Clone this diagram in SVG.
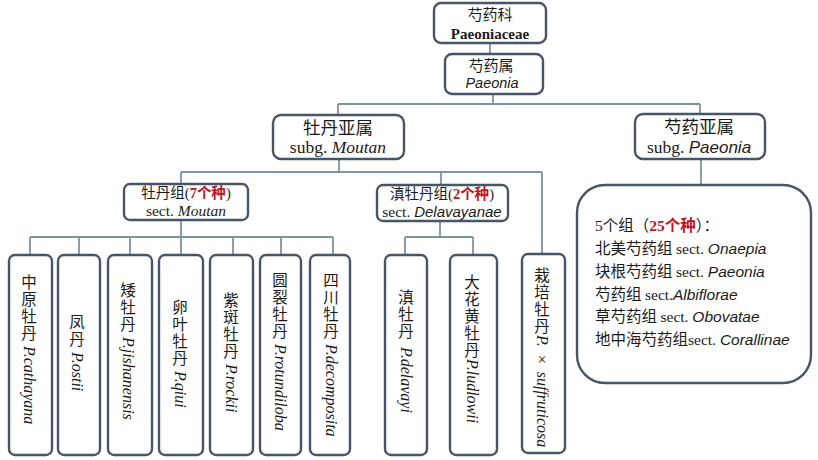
<svg xmlns="http://www.w3.org/2000/svg" width="818" height="460" viewBox="0 0 818 460">
<defs>
<style>
.box{fill:#ffffff;stroke:#46566a;stroke-width:2.4}
.ln{fill:none;stroke:#7b93a8;stroke-width:1.8}
.cjk{font-family:"Noto Sans CJK SC","Noto Sans CJK TC",sans-serif;fill:#1a1a1a}
.ser{font-family:"Liberation Serif","Noto Sans CJK SC",serif;fill:#1a1a1a}
.ait{font-family:"Liberation Sans",sans-serif;font-style:italic;fill:#1a1a1a}
.red{fill:#c0141c;font-weight:bold}
.vt{font-family:"Noto Sans CJK SC",sans-serif;font-size:15.5px;letter-spacing:1.5px;fill:#1a1a1a;writing-mode:vertical-rl}
.ll{font-family:"Liberation Serif",serif;font-style:italic;font-size:16px;letter-spacing:0}
</style>
</defs>
<rect width="818" height="460" fill="#ffffff"/>
<g id="connectors">
<path class="ln" d="M490 43V54"/>
<path class="ln" d="M493 94V104M338 104H700M338 104V115M700 104V114"/>
<path class="ln" d="M339 159V172M181 172H542M181 172V184M441 172V185M542 172V254"/>
<path class="ln" d="M181 220V237M30 237H333M30 237V255M79 237V255M130 237V255M181 237V255M233 237V255M281 237V255M333 237V255"/>
<path class="ln" d="M440 221V237M405 237H473M405 237V255M473 237V255"/>
<path class="ln" d="M701 159V185"/>
</g>
<g id="n_family">
<rect class="box" x="434" y="3" width="112" height="40" rx="7"/>
<text class="cjk" x="490" y="20" font-size="15" text-anchor="middle">芍药科</text>
<text class="ser" x="490" y="39" font-size="15" font-weight="bold" text-anchor="middle">Paeoniaceae</text>
</g>
<g id="n_genus">
<rect class="box" x="445" y="54" width="98" height="40" rx="7"/>
<text class="cjk" x="491" y="71" font-size="15" text-anchor="middle">芍药属</text>
<text class="ait" x="492" y="88" font-size="14.5" text-anchor="middle">Paeonia</text>
</g>
<g id="n_moutan">
<rect class="box" x="273" y="115" width="131" height="44" rx="8"/>
<text class="cjk" x="338" y="134" font-size="17.5" text-anchor="middle">牡丹亚属</text>
<text class="ser" x="338" y="153" font-size="17.5" text-anchor="middle">subg. <tspan font-style="italic">Moutan</tspan></text>
</g>
<g id="n_paeonia">
<rect class="box" x="635" y="114" width="130" height="45" rx="8"/>
<text class="cjk" x="699" y="133" font-size="17.5" text-anchor="middle">芍药亚属</text>
<text class="ser" x="699" y="153" font-size="17.5" text-anchor="middle">subg. <tspan class="ait" font-size="17">Paeonia</tspan></text>
</g>
<g id="n_sect_moutan">
<rect class="box" x="124" y="184" width="124" height="36" rx="6"/>
<text class="cjk" x="186" y="198" font-size="14.5" text-anchor="middle">牡丹组<tspan class="ser">(</tspan><tspan class="red ser">7</tspan><tspan class="red">个种</tspan><tspan class="ser">)</tspan></text>
<text class="ser" x="186" y="216" font-size="15.5" text-anchor="middle">sect. <tspan font-style="italic">Moutan</tspan></text>
</g>
<g id="n_sect_delavayanae">
<rect class="box" x="377" y="185" width="131" height="36" rx="6"/>
<text class="cjk" x="442" y="199" font-size="14.5" text-anchor="middle">滇牡丹组<tspan class="ser">(</tspan><tspan class="red ser">2</tspan><tspan class="red">个种</tspan><tspan class="ser">)</tspan></text>
<text class="ser" x="442" y="217" font-size="15.5" text-anchor="middle">sect. <tspan class="ait" font-size="15">Delavayanae</tspan></text>
</g>
<g id="n_sections">
<rect class="box" x="577" y="185" width="234" height="198" rx="28"/>
<text class="ser" x="595" y="231" font-size="15.5">5<tspan class="cjk">个组（</tspan><tspan class="red">25</tspan><tspan class="cjk red">个种</tspan><tspan class="cjk">）：</tspan></text>
<text class="cjk" x="595" y="254" font-size="15.5">北美芍药组 <tspan class="ser">sect. </tspan><tspan class="ait">Onaepia</tspan></text>
<text class="cjk" x="595" y="277" font-size="15.5">块根芍药组 <tspan class="ser">sect. </tspan><tspan class="ait">Paeonia</tspan></text>
<text class="cjk" x="595" y="300" font-size="15.5">芍药组 <tspan class="ser">sect.</tspan><tspan class="ait">Albiflorae</tspan></text>
<text class="cjk" x="595" y="322" font-size="15.5">草芍药组 <tspan class="ser">sect. </tspan><tspan class="ait">Obovatae</tspan></text>
<text class="cjk" x="595" y="345" font-size="15.5">地中海芍药组<tspan class="ser">sect. </tspan><tspan class="ait">Corallinae</tspan></text>
</g>
<g id="n_cathayana">
<rect class="box" x="9" y="255" width="43" height="200" rx="6"/>
<text class="vt" x="29" y="274">中原牡丹<tspan class="ll" dy="4">P.cathayana</tspan></text>
</g>
<g id="n_ostii">
<rect class="box" x="58" y="255" width="42" height="200" rx="6"/>
<text class="vt" x="77" y="314">凤丹<tspan class="ll" dy="4">P.ostii</tspan></text>
</g>
<g id="n_jishanensis">
<rect class="box" x="108" y="255" width="44" height="200" rx="6"/>
<text class="vt" x="128" y="282">矮牡丹<tspan class="ll" dy="4">P.jishanensis</tspan></text>
</g>
<g id="n_qiui">
<rect class="box" x="159" y="255" width="44" height="200" rx="6"/>
<text class="vt" x="180" y="299">卵叶牡丹<tspan class="ll" dy="4">P.qiui</tspan></text>
</g>
<g id="n_rockii">
<rect class="box" x="210" y="255" width="43" height="200" rx="6"/>
<text class="vt" x="231" y="292">紫斑牡丹<tspan class="ll" dy="4">P.rockii</tspan></text>
</g>
<g id="n_rotundiloba">
<rect class="box" x="260" y="255" width="41" height="200" rx="6"/>
<text class="vt" x="280" y="272">圆裂牡丹<tspan class="ll" dy="4">P.rotundiloba</tspan></text>
</g>
<g id="n_decomposita">
<rect class="box" x="310" y="255" width="40" height="200" rx="6"/>
<text class="vt" x="331" y="272">四川牡丹<tspan class="ll" dy="4">P.decomposita</tspan></text>
</g>
<g id="n_delavayi">
<rect class="box" x="385" y="255" width="42" height="200" rx="6"/>
<text class="vt" x="406" y="289">滇牡丹<tspan class="ll" dy="7">P.delavayi</tspan></text>
</g>
<g id="n_ludlowii">
<rect class="box" x="450" y="255" width="47" height="200" rx="6"/>
<text class="vt" x="472" y="274">大花黄牡丹<tspan class="ll" dy="0">P.ludlowii</tspan></text>
</g>
<g id="n_suffruticosa">
<rect class="box" x="522" y="254" width="43" height="199" rx="6"/>
<text class="vt" x="542" y="267">栽培牡丹<tspan class="ll" dy="0">P.<tspan font-style="normal"> × </tspan>suffruticosa</tspan></text>
</g>
</svg>
